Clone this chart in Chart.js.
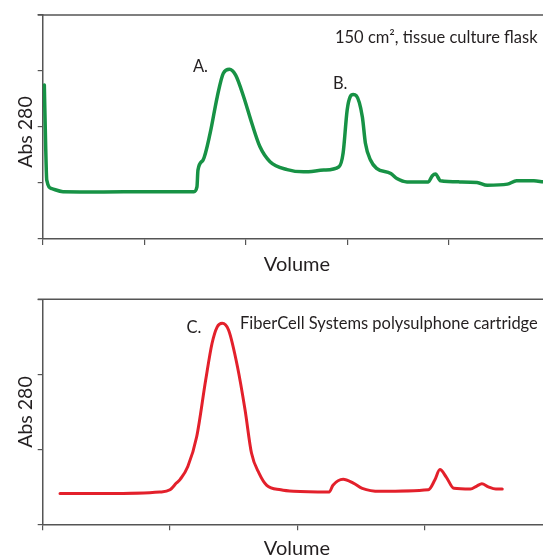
<!DOCTYPE html>
<html>
<head>
<meta charset="utf-8">
<script src="https://cdn.jsdelivr.net/npm/chart.js@4.4.1/dist/chart.umd.min.js"></script>
<style>
  body { margin: 0; background: #fff; }
  #wrap { position: relative; width: 543px; height: 557px; }
  canvas { position: absolute; left: 0; }
</style>
</head>
<body>
<div id="wrap">
  <canvas id="flaskChart" width="543" height="280" style="top:0px"></canvas>
  <canvas id="cartridgeChart" width="543" height="277" style="top:280px"></canvas>
</div>
<script>
// Trace 1: 150 cm2 tissue culture flask (peaks A and B)
var flaskVolume = [0.016, 0.03, 0.04, 0.09, 0.2, 0.6, 1.0, 1.35, 1.49, 1.52, 1.53, 1.58, 1.65, 1.72, 1.78, 1.84, 1.9, 1.98, 2.06, 2.14, 2.24, 2.41, 2.57, 2.77, 2.92, 2.96, 3.0, 3.03, 3.06, 3.09, 3.15, 3.18, 3.23, 3.29, 3.43, 3.49, 3.59, 3.8, 3.84, 3.87, 3.92, 4.11, 4.28, 4.38, 4.58, 4.67, 4.84, 4.93];
var flaskAbs    = [2.75, 1.6, 1.05, 0.9, 0.845, 0.84, 0.845, 0.845, 0.845, 0.93, 1.23, 1.41, 1.89, 2.54, 2.96, 3.03, 2.93, 2.54, 2.07, 1.65, 1.38, 1.24, 1.2, 1.23, 1.29, 1.53, 2.3, 2.54, 2.58, 2.56, 2.18, 1.71, 1.41, 1.26, 1.17, 1.08, 1.02, 1.02, 1.13, 1.16, 1.04, 1.02, 1.01, 0.96, 0.98, 1.04, 1.04, 1.02];

// Trace 2: FiberCell Systems polysulphone cartridge (peak C)
var cartridgeVolume = [0.136, 0.5, 0.92, 1.0, 1.05, 1.08, 1.14, 1.21, 1.28, 1.33, 1.37, 1.41, 1.46, 1.53, 1.59, 1.64, 1.7, 1.76, 1.87, 1.97, 2.25, 2.28, 2.36, 2.44, 2.51, 2.65, 3.03, 3.08, 3.12, 3.17, 3.23, 3.36, 3.41, 3.45, 3.5, 3.56, 3.61];
var cartridgeAbs    = [0.41, 0.41, 0.43, 0.46, 0.55, 0.6, 0.77, 1.17, 1.92, 2.41, 2.63, 2.68, 2.59, 2.1, 1.52, 0.95, 0.68, 0.52, 0.46, 0.44, 0.43, 0.52, 0.6, 0.55, 0.48, 0.44, 0.46, 0.59, 0.73, 0.63, 0.48, 0.47, 0.51, 0.54, 0.5, 0.47, 0.47];

var volumeTicks = [0, 1, 2, 3, 4];
var flaskAbsTicks = [0, 1, 2, 3, 4];
var cartridgeAbsTicks = [0, 1, 2, 3];

var axisColor = '#555555';
var textColor = '#231f20';

function toPoints(xs, ys) {
  return xs.map(function (x, i) { return { x: x, y: ys[i] }; });
}

// frame line, axis titles and peak labels
var panelText = {
  id: 'panelText',
  afterDraw: function (chart, args, opts) {
    var ctx = chart.ctx;
    var area = chart.chartArea;
    var xs = chart.scales.x, ys = chart.scales.y;
    ctx.save();
    ctx.strokeStyle = axisColor;
    ctx.lineWidth = 1.5;
    ctx.beginPath();
    ctx.moveTo(area.left - 5, area.top);
    ctx.lineTo(chart.width, area.top);
    ctx.stroke();

    ctx.fillStyle = textColor;
    ctx.textBaseline = 'alphabetic';
    ctx.textAlign = 'left';
    ctx.font = '16.5px Lato';
    opts.notes.forEach(function (n) {
      ctx.fillText(n.text, xs.getPixelForValue(n.x), ys.getPixelForValue(n.y));
    });

    ctx.font = '20px Lato';
    ctx.textAlign = 'center';
    ctx.fillText('Volume', opts.volumeX, opts.volumeY);
    ctx.font = '19.5px Lato';
    ctx.translate(32, opts.absY);
    ctx.rotate(-Math.PI / 2);
    ctx.fillText('Abs 280', 0, 0);
    ctx.restore();
  }
};

function makeChart(id, pts, color, width, xMax, yTicks, padTop, xAxisHeight, textOpts) {
  var ctx = document.getElementById(id).getContext('2d');
  return new Chart(ctx, {
    type: 'line',
    data: {
      datasets: [{
        data: pts,
        borderColor: color,
        borderWidth: width,
        pointRadius: 0,
        fill: false,
        cubicInterpolationMode: 'monotone',
        borderCapStyle: 'round',
        borderJoinStyle: 'round'
      }]
    },
    options: {
      responsive: false,
      animation: false,
      layout: { padding: { top: padTop, left: 0, right: 0, bottom: 0 } },
      plugins: {
        legend: { display: false },
        tooltip: { enabled: false },
        panelText: textOpts
      },
      scales: {
        x: {
          type: 'linear',
          min: 0,
          max: xMax,
          afterBuildTicks: function (s) { s.ticks = volumeTicks.map(function (v) { return { value: v }; }); },
          ticks: { display: false },
          grid: { drawOnChartArea: false, drawTicks: true, tickLength: 6, color: axisColor, lineWidth: 1.2 },
          border: { display: true, color: axisColor, width: 1.5 },
          afterFit: function (s) { s.height = xAxisHeight; }
        },
        y: {
          type: 'linear',
          min: 0,
          max: yTicks[yTicks.length - 1],
          afterBuildTicks: function (s) { s.ticks = yTicks.map(function (v) { return { value: v }; }); },
          ticks: { display: false },
          grid: { drawOnChartArea: false, drawTicks: true, tickLength: 5, color: axisColor, lineWidth: 1.2 },
          border: { display: true, color: axisColor, width: 1.5 },
          afterFit: function (s) { s.width = 42.7; }
        }
      }
    },
    plugins: [panelText]
  });
}

makeChart('flaskChart', toPoints(flaskVolume, flaskAbs), '#179245', 3.5, 4.93, flaskAbsTicks, 15, 41, {
  notes: [
    { text: 'A.', x: 1.48, y: 2.98 },
    { text: 'B.', x: 2.86, y: 2.68 },
    { text: '150 cm\u00b2, tissue culture flask', x: 2.88, y: 3.5 }
  ],
  volumeX: 297, volumeY: 271, absY: 132
});

makeChart('cartridgeChart', toPoints(cartridgeVolume, cartridgeAbs), '#e3202b', 3, 3.93, cartridgeAbsTicks, 19.3, 32.7, {
  notes: [
    { text: 'C.', x: 1.13, y: 2.55 },
    { text: 'FiberCell Systems polysulphone cartridge', x: 1.55, y: 2.6 }
  ],
  volumeX: 297, volumeY: 275, absY: 132
});
</script>
</body>
</html>
